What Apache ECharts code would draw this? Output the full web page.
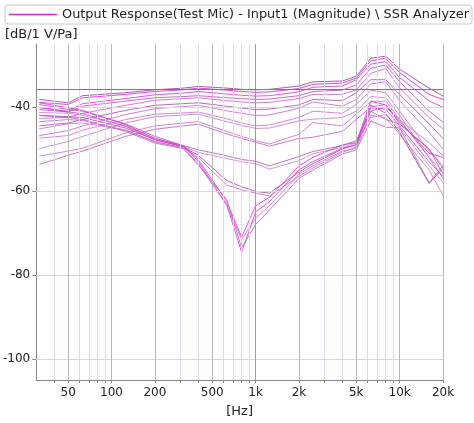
<!DOCTYPE html>
<html><head><meta charset="utf-8">
<script src="https://cdn.jsdelivr.net/npm/echarts@6/dist/echarts.min.js"></script>
<style>html,body{margin:0;padding:0;background:#fff}#c{width:474px;height:423px}</style>
</head><body><div id="c"></div>
<script>
// ---- data ----
const freqs = [31.5, 50, 63, 125, 200, 315, 400, 630, 800, 1000, 1250, 2000, 2500, 4000, 5000, 6300, 8000, 10000, 16000, 20000];
const c0  = [-38.2, -39.0, -37.3, -36.6, -35.9, -35.5, -35.1, -35.5, -35.8, -35.9, -35.8, -35.0, -34.0, -33.8, -32.7, -28.4, -27.9, -31.0, -35.5, -37.4];
const c1  = [-38.9, -39.4, -37.8, -37.0, -36.3, -35.9, -35.5, -36.0, -36.3, -36.5, -36.4, -35.6, -34.6, -34.3, -33.1, -29.0, -28.4, -31.8, -37.0, -38.2];
const c2  = [-40.2, -41.0, -39.2, -38.0, -37.1, -36.7, -36.3, -36.9, -37.2, -37.4, -37.3, -36.4, -35.3, -35.0, -33.5, -29.8, -29.2, -33.0, -38.5, -40.1];
const c3  = [-40.6, -41.2, -39.8, -38.6, -37.8, -37.5, -37.3, -37.8, -38.0, -38.2, -38.1, -37.3, -36.3, -36.0, -34.7, -30.8, -30.0, -34.0, -41.0, -43.6];
const c4  = [-42.7, -42.5, -41.5, -39.6, -38.4, -38.0, -37.8, -38.5, -38.8, -39.0, -38.9, -38.0, -37.0, -37.0, -35.9, -32.0, -30.8, -35.5, -42.5, -45.2];
const c5  = [-44.5, -43.8, -43.0, -40.8, -39.6, -39.2, -39.0, -39.8, -40.3, -40.6, -40.5, -39.5, -38.2, -38.5, -36.6, -33.5, -33.5, -37.0, -44.0, -47.5];
const c6  = [-46.8, -45.6, -44.5, -41.8, -40.4, -39.9, -39.6, -40.9, -41.5, -42.0, -41.9, -40.3, -38.8, -39.8, -38.2, -34.5, -34.0, -38.5, -46.0, -50.0];
const c7  = [-47.4, -46.8, -45.5, -43.0, -41.7, -41.4, -41.2, -42.8, -43.8, -44.5, -44.3, -42.5, -41.0, -41.5, -39.4, -36.0, -36.6, -41.0, -50.5, -53.9];
const c8  = [-49.9, -48.2, -47.0, -43.8, -42.3, -41.9, -41.7, -43.5, -44.4, -45.1, -45.0, -43.3, -42.9, -42.5, -41.0, -37.5, -37.8, -42.0, -52.0, -55.4];
const c9  = [-51.7, -50.5, -49.8, -46.2, -44.5, -43.8, -43.5, -45.8, -47.0, -48.0, -48.8, -46.5, -43.7, -44.5, -41.7, -38.8, -38.6, -43.0, -48.5, -51.6];
const c10 = [-53.7, -51.5, -50.5, -47.0, -45.3, -44.5, -44.1, -46.4, -47.5, -48.4, -49.3, -47.5, -47.2, -45.8, -43.0, -40.0, -39.4, -44.0, -50.0, -54.6];
const c11 = [-39.4, -40.6, -41.0, -44.0, -47.0, -49.2, -50.2, -51.6, -52.5, -52.9, -54.0, -51.8, -50.6, -49.2, -48.0, -41.0, -40.0, -43.0, -52.0, -57.0];
const c12 = [-41.3, -41.5, -42.0, -44.5, -47.4, -49.4, -50.8, -52.3, -53.0, -53.5, -54.8, -52.8, -51.1, -49.6, -48.6, -42.5, -41.8, -45.0, -54.0, -58.0];
const c13 = [-42.0, -42.3, -42.5, -45.0, -47.8, -49.5, -51.5, -57.5, -59.0, -60.1, -60.5, -55.5, -53.5, -50.0, -49.0, -39.5, -41.5, -46.0, -58.2, -54.6];
const c14 = [-43.5, -43.0, -43.2, -45.5, -48.2, -49.7, -52.0, -58.6, -59.7, -60.5, -61.2, -56.5, -54.5, -50.8, -49.5, -41.0, -43.0, -44.0, -50.0, -56.0];
const c15 = [-39.0, -40.2, -40.8, -44.2, -47.5, -49.2, -52.5, -62.5, -71.0, -63.5, -61.5, -54.0, -52.0, -49.0, -48.5, -38.6, -39.5, -43.5, -51.0, -52.0];
const c16 = [-40.0, -41.2, -41.6, -44.6, -47.8, -49.4, -53.0, -63.2, -74.6, -65.0, -62.5, -55.0, -53.0, -49.8, -49.0, -40.2, -40.5, -44.5, -53.0, -56.5];
const c17 = [-45.2, -44.0, -43.8, -45.5, -48.3, -49.7, -53.5, -63.5, -71.5, -66.5, -63.5, -56.0, -54.0, -50.5, -49.8, -42.0, -42.5, -46.5, -55.0, -61.0];
const c18 = [-42.0, -42.5, -43.0, -45.8, -48.6, -49.9, -53.8, -62.0, -73.5, -68.0, -64.5, -57.0, -55.0, -51.2, -50.2, -43.3, -44.8, -45.0, -58.0, -54.0];
const curves = [c0, c1, c2, c3, c4, c5, c6, c7, c8, c9, c10, c11, c12, c13, c14, c15, c16, c17, c18];
const majorTicks = [50, 100, 200, 500, 1000, 2000, 5000, 10000, 20000];
const minorTicks = [40, 60, 70, 80, 90, 300, 400, 600, 700, 800, 900, 3000, 4000, 6000, 7000, 8000, 9000];
const yTicks = [-40, -60, -80, -100];
const cursorLevel = -35.7;
const cursorFreq = 1000;
const seriesName = 'Output Response(Test Mic) - Input1 (Magnitude) \\ SSR Analyzer';

// ---- styles ----
const curveColors = ['#8a4a8a', '#e020e0', '#d040d0', '#c050c0', '#d060d0', '#b050b0', '#cc66cc', '#d070d0', '#c080c0', '#d070d0',
  '#c060c0', '#b060b0', '#d080d0', '#a050a0', '#c070c0', '#e030e0', '#cc44cc', '#d070d0', '#c060c0'];
const FONT = 'DejaVu Sans';

const gridMarks = [];
minorTicks.forEach(v => gridMarks.push({xAxis: v, lineStyle: {color: '#dcdcf2', width: 1, type: 'solid'}}));
yTicks.forEach(v => gridMarks.push({yAxis: v, lineStyle: {color: '#d8d8d8', width: 1, type: 'solid'}}));
majorTicks.forEach(v => { if (v !== cursorFreq) gridMarks.push({xAxis: v, lineStyle: {color: '#b8b8b8', width: 1, type: 'solid'}}); });
gridMarks.push({xAxis: cursorFreq, lineStyle: {color: '#a890b0', width: 1, type: 'solid'}});
gridMarks.push({yAxis: cursorLevel, lineStyle: {color: '#8c6e8c', width: 1, type: 'solid'}});

const series = [{
  type: 'line', name: '_grid', data: [[1000, -200]], showSymbol: false, silent: true, z: 1,
  lineStyle: {opacity: 0},
  markLine: {silent: true, symbol: ['none', 'none'], label: {show: false}, animation: false, data: gridMarks}
}];
curves.forEach((c, k) => {
  series.push({
    type: 'line', name: seriesName, showSymbol: false, z: 2, animation: false,
    data: freqs.map((f, i) => [f, c[i]]),
    lineStyle: {width: 1, color: curveColors[k], opacity: 0.85},
    itemStyle: {color: '#e020e0'}
  });
});

const fmtHz = v => { let x = Math.round(v); if (x < 10) x = Math.round(Math.pow(10, v)); return x >= 1000 ? (x / 1000) + 'k' : String(x); };

const chart = echarts.init(document.getElementById('c'), null, {renderer: 'canvas'});
chart.setOption({
  animation: false,
  backgroundColor: '#fff',
  title: {text: '[dB/1 V/Pa]', left: 5, top: 28, padding: 0,
    textStyle: {fontSize: 13, fontWeight: 'normal', color: '#222', fontFamily: FONT}},
  legend: {
    data: [{name: seriesName, itemStyle: {color: '#e020e0'}}],
    left: 5, top: 5, icon: 'rect', itemWidth: 48, itemHeight: 1.5, itemGap: 6,
    padding: [3, 3, 3, 4], borderColor: '#c8c8c8', borderWidth: 1, borderRadius: 3,
    textStyle: {fontSize: 12.9, color: '#222', fontFamily: FONT}, selectedMode: false
  },
  grid: {left: 36, right: 31, top: 44, bottom: 40, containLabel: false},
  xAxis: {
    type: 'log', logBase: 10, min: 30, max: 20000,
    axisLine: {show: true, onZero: false, lineStyle: {color: '#888'}},
    axisTick: {show: true, customValues: majorTicks.concat(minorTicks).sort((a, b) => a - b), length: 3, lineStyle: {color: '#888'}},
    axisLabel: {customValues: majorTicks, formatter: fmtHz, color: '#222', fontSize: 12, margin: 7, fontFamily: FONT},
    splitLine: {show: false}, minorTick: {show: false},
    name: '[Hz]', nameLocation: 'middle', nameGap: 25,
    nameTextStyle: {fontSize: 13, color: '#222', fontFamily: FONT}
  },
  yAxis: {
    type: 'value', min: -105, max: -25,
    axisLine: {show: true, onZero: false, lineStyle: {color: '#888'}},
    axisTick: {show: true, customValues: yTicks, length: 4, lineStyle: {color: '#888'}},
    axisLabel: {customValues: yTicks, color: '#222', fontSize: 12, margin: 6, fontFamily: FONT},
    splitLine: {show: false}
  },
  series: series
});
</script></body></html>
